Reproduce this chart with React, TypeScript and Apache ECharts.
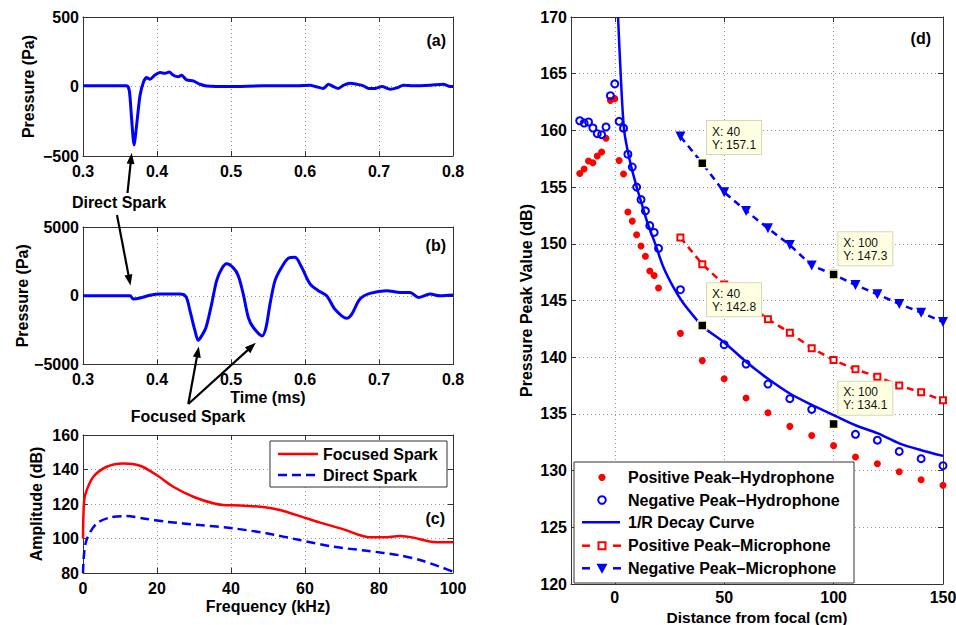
import React, { useEffect, useRef } from 'react';
import * as echarts from 'echarts';

// Panel (a): direct spark waveform
const timeA = [0.300, 0.359, 0.3626, 0.3657, 0.369, 0.3724, 0.377, 0.3815, 0.386, 0.3905, 0.3973, 0.404, 0.411, 0.4166, 0.422, 0.4288, 0.4333, 0.44, 0.449, 0.458, 0.467, 0.499, 0.544, 0.589, 0.607, 0.614, 0.625, 0.6315, 0.638, 0.645, 0.652, 0.661, 0.67, 0.679, 0.686, 0.695, 0.704, 0.715, 0.724, 0.733, 0.746, 0.769, 0.787, 0.796, 0.8];
const pressureA = [5, 5, -31, -233, -420, -281, -67, 29, 64, 52, 83, 100, 95, 104, 81, 71, 81, 47, 40, 16, 4, 0, 5, 5, 9, 0, -14, 16, 0, -14, 9, 24, 16, 5, -14, -14, 0, -19, -10, 9, 5, 9, 16, 0, 0];

// Panel (b): focused spark waveform
const timeB = [0.300, 0.3635, 0.368, 0.377, 0.3905, 0.404, 0.431, 0.4392, 0.4446, 0.4514, 0.4557, 0.4603, 0.4662, 0.4738, 0.4806, 0.4873, 0.494, 0.5031, 0.5098, 0.5166, 0.5234, 0.5302, 0.5422, 0.5473, 0.5527, 0.5595, 0.5684, 0.5774, 0.5865, 0.5955, 0.6068, 0.618, 0.6293, 0.6405, 0.6563, 0.663, 0.6743, 0.6878, 0.7103, 0.7284, 0.742, 0.7531, 0.769, 0.7824, 0.8];
const pressureB = [0, 0, -240, -170, 30, 120, 120, -70, -1100, -2560, -3240, -2920, -2310, -610, 1100, 1950, 2320, 2030, 1460, 120, -1580, -2310, -2920, -2310, -610, 1100, 2070, 2730, 2800, 2070, 860, 370, 0, -980, -1640, -1350, -240, 170, 370, 240, 240, -120, 120, 0, 50];

// Panel (c): spectra
const freqFocused = [0, 0.3, 1, 2.8, 6.4, 10.9, 15.4, 19.9, 24.4, 29.8, 35.2, 37.9, 42.4, 49.6, 53.2, 58.6, 64.1, 70.4, 74.9, 77.6, 81.2, 85.7, 89.3, 94.7, 100];
const ampFocused = [100, 122, 128, 135.8, 141.6, 143.5, 142.2, 136.8, 130, 124.2, 120.4, 119.4, 119.2, 118, 116.5, 113, 109.2, 105.3, 101.9, 100.7, 100.7, 101.4, 100.5, 98, 97.8];
const freqDirect = [0, 0.3, 1.1, 3.7, 7.3, 11.8, 16.3, 22.6, 31.6, 40.6, 49.6, 58.6, 67.7, 76.7, 85.7, 91.1, 96.5, 100];
const ampDirect = [80, 91.4, 100, 108.7, 112.2, 113, 111.6, 109.7, 107.8, 105.9, 103, 99.1, 95.2, 92.9, 90.2, 87.5, 83.6, 80.8];

// Panel (d): peak values vs distance
const hydroX = [-16, -14, -12, -10, -8, -6, -4, -2, 0, 2, 4, 6, 8, 10, 12, 14, 16, 18, 20, 30, 40, 50, 60, 70, 80, 90, 100, 110, 120, 130, 140, 150];
const posHydro = [156.2, 156.6, 157.3, 157.15, 157.75, 158.1, 159.3, 162.65, 162.8, 157.35, 156.15, 152.8, 152.0, 150.8, 149.8, 148.9, 147.6, 147.2, 146.1, 142.1, 139.7, 138.1, 136.4, 135.1, 133.9, 133.1, 132.2, 131.2, 130.6, 129.9, 129.2, 128.7];
const negHydro = [160.85, 160.65, 160.74, 160.21, 159.71, 159.62, 160.3, 163.06, 164.1, 160.8, 160.2, 157.9, 156.77, 155.0, 153.9, 152.9, 151.6, 151.0, 149.6, 145.95, 142.8, 141.1, 139.4, 137.63, 136.34, 135.4, 134.1, 133.2, 132.68, 131.69, 131.05, 130.43];
const decayX = [1.5, 2.7, 4.3, 6.9, 9.9, 12.2, 15.2, 18.3, 22.1, 26.7, 31.2, 37.4, 40, 50, 60, 70, 80, 90, 100, 110, 120, 130, 140, 150];
const decayY = [170, 165, 160, 157.3, 155.1, 153.6, 151.7, 150.1, 148.0, 146.2, 144.8, 143.3, 142.7, 141.3, 139.6, 138.1, 136.8, 135.8, 134.9, 134.0, 133.3, 132.4, 131.8, 131.3];
const micX = [30, 40, 50, 60, 70, 80, 90, 100, 110, 120, 130, 140, 150];
const posMic = [150.55, 148.2, 146.4, 144.8, 143.35, 142.16, 140.8, 139.75, 138.93, 138.28, 137.5, 136.9, 136.2];
const negMic = [159.46, 157.1, 154.55, 152.9, 151.37, 149.9, 148.08, 147.3, 146.37, 145.55, 144.7, 143.93, 143.1];
const tipX = [40, 100, 40, 100];
const tipY = [157.1, 147.3, 142.8, 134.1];
const xTicksD = [0, 50, 100, 150];
const xGridD = [0, 50, 100];

const FONT = "'Liberation Sans', Arial, Helvetica, sans-serif";
const zip = (xs: number[], ys: number[]) => xs.map((x, i) => [x, ys[i]]);
const fmtNum = (v: number) => (v < 0 ? '\u2212' + Math.abs(v) : String(v));

const lineCol = '#333';
const gridCol = '#9a9a9a';
const labelTxt = { fontFamily: FONT, fontSize: 16, fontWeight: 'bold' as const, color: '#000' };
const splitDots = { show: true, lineStyle: { type: [1, 3], color: gridCol, width: 1 } };

function bottomX(gridIndex: number, min: number, max: number, interval: number | undefined, fmt: any, name?: string, extra: any = {}) {
  return {
    type: 'value', gridIndex, min, max, interval, position: 'bottom',
    axisLine: { show: true, onZero: false, lineStyle: { color: lineCol, width: 1 } },
    axisTick: { show: true, inside: true, length: 5, lineStyle: { color: lineCol }, ...(extra.axisTick || {}) },
    axisLabel: { ...labelTxt, margin: 7, formatter: fmt, ...(extra.axisLabel || {}) },
    splitLine: extra.splitLine || splitDots,
    name, nameLocation: 'middle', nameGap: extra.nameGap || 25, nameTextStyle: { ...labelTxt, ...(extra.nameTextStyle || {}) },
  };
}
function topX(gridIndex: number, min: number, max: number, interval: number | undefined, extra: any = {}) {
  return {
    type: 'value', gridIndex, min, max, interval, position: 'top',
    axisLine: { show: true, onZero: false, lineStyle: { color: lineCol, width: 1 } },
    axisTick: { show: true, inside: true, length: 5, lineStyle: { color: lineCol }, ...(extra.axisTick || {}) },
    axisLabel: { show: false, ...(extra.axisLabel || {}) },
    splitLine: { show: false },
  };
}
function leftY(gridIndex: number, min: number, max: number, interval: number, name: string, nameGap: number) {
  return {
    type: 'value', gridIndex, min, max, interval, position: 'left',
    axisLine: { show: true, onZero: false, lineStyle: { color: lineCol, width: 1 } },
    axisTick: { show: true, inside: true, length: 5, lineStyle: { color: lineCol } },
    axisLabel: { ...labelTxt, margin: 4, formatter: fmtNum },
    splitLine: splitDots,
    name, nameLocation: 'middle', nameGap, nameTextStyle: labelTxt,
  };
}
function rightY(gridIndex: number, min: number, max: number, interval: number) {
  return {
    type: 'value', gridIndex, min, max, interval, position: 'right',
    axisLine: { show: true, onZero: false, lineStyle: { color: lineCol, width: 1 } },
    axisTick: { show: true, inside: true, length: 5, lineStyle: { color: lineCol } },
    axisLabel: { show: false },
    splitLine: { show: false },
  };
}

function arrow(x1: number, y1: number, x2: number, y2: number) {
  const dx = x2 - x1, dy = y2 - y1;
  const len = Math.sqrt(dx * dx + dy * dy);
  const ux = dx / len, uy = dy / len;
  const nx = -uy, ny = ux;
  const hl = 11, hw = 4;
  const bx = x2 - ux * hl, by = y2 - uy * hl;
  return [
    { type: 'line', z: 100, shape: { x1, y1, x2: bx + ux * 2, y2: by + uy * 2 }, style: { stroke: '#000', lineWidth: 2.2 } },
    { type: 'polygon', z: 100, shape: { points: [[x2, y2], [bx + nx * hw, by + ny * hw], [bx - nx * hw, by - ny * hw]] }, style: { fill: '#000' } },
  ];
}
function txt(x: number, y: number, text: string, align = 'center', size = 16, weight = 'bold') {
  return { type: 'text', z: 101, x, y, style: { text, fontFamily: FONT, fontSize: size, fontWeight: weight, fill: '#000', align, verticalAlign: 'middle' } };
}

export default function App() {
  const ref = useRef<HTMLDivElement>(null);
  useEffect(() => {
    if (!ref.current) return;
    const chart = echarts.init(ref.current, undefined, { renderer: 'svg' });

    const legendC = [
      { type: 'rect', z: 100, shape: { x: 270, y: 441, width: 177, height: 46 }, style: { fill: '#fff', stroke: '#333', lineWidth: 1 } },
      { type: 'line', z: 101, shape: { x1: 278, y1: 454, x2: 318, y2: 454 }, style: { stroke: '#ff0000', lineWidth: 2.5 } },
      txt(323, 454, 'Focused Spark', 'left'),
      { type: 'line', z: 101, shape: { x1: 278, y1: 475, x2: 318, y2: 475 }, style: { stroke: '#0000ff', lineWidth: 2.5, lineDash: [9, 5] } },
      txt(323, 475, 'Direct Spark', 'left'),
    ];
    const ly = [477.3, 500, 522.3, 545.7, 568.3];
    const legendD = [
      { type: 'rect', z: 100, shape: { x: 574, y: 462, width: 280, height: 121 }, style: { fill: '#fff', stroke: '#333', lineWidth: 1 } },
      { type: 'circle', z: 101, shape: { cx: 602, cy: ly[0], r: 3.6 }, style: { fill: '#ff0000' } },
      txt(628, ly[0], 'Positive Peak\u2013Hydrophone', 'left'),
      { type: 'circle', z: 101, shape: { cx: 602, cy: ly[1], r: 3.8 }, style: { fill: 'none', stroke: '#0000ff', lineWidth: 2 } },
      txt(628, ly[1], 'Negative Peak\u2013Hydrophone', 'left'),
      { type: 'line', z: 101, shape: { x1: 582, y1: ly[2], x2: 620, y2: ly[2] }, style: { stroke: '#0000ff', lineWidth: 2.5 } },
      txt(628, ly[2], '1/R Decay Curve', 'left'),
      { type: 'line', z: 101, shape: { x1: 582, y1: ly[3], x2: 590, y2: ly[3] }, style: { stroke: '#ff0000', lineWidth: 2.5 } },
      { type: 'line', z: 101, shape: { x1: 613, y1: ly[3], x2: 621, y2: ly[3] }, style: { stroke: '#ff0000', lineWidth: 2.5 } },
      { type: 'rect', z: 101, shape: { x: 598.5, y: ly[3] - 3.5, width: 7, height: 7 }, style: { fill: '#fff', stroke: '#ff0000', lineWidth: 2 } },
      txt(628, ly[3], 'Positive Peak\u2013Microphone', 'left'),
      { type: 'line', z: 101, shape: { x1: 582, y1: ly[4], x2: 590, y2: ly[4] }, style: { stroke: '#0000ff', lineWidth: 2.5 } },
      { type: 'line', z: 101, shape: { x1: 613, y1: ly[4], x2: 621, y2: ly[4] }, style: { stroke: '#0000ff', lineWidth: 2.5 } },
      { type: 'polygon', z: 101, shape: { points: [[596.5, ly[4] - 4.5], [607.5, ly[4] - 4.5], [602, ly[4] + 5.5]] }, style: { fill: '#0000ff' } },
      txt(628, ly[4], 'Negative Peak\u2013Microphone', 'left'),
    ];

    const graphic = [
      ...arrow(127.5, 193, 131.7, 153),
      ...arrow(117, 215, 130.5, 285.5),
      ...arrow(188.3, 404, 198.8, 346.5),
      ...arrow(188.3, 404, 255.8, 342.8),
      txt(119, 202, 'Direct Spark'),
      txt(188, 416, 'Focused Spark'),
      txt(446, 40, '(a)', 'right'),
      txt(446, 245, '(b)', 'right'),
      txt(445, 518, '(c)', 'right'),
      txt(931, 38, '(d)', 'right'),
      ...legendC,
      ...legendD,
    ];

    const option: any = {
      animation: false,
      backgroundColor: '#ffffff',
      textStyle: { fontFamily: FONT },
      grid: [
        { left: 83, top: 17, width: 370, height: 139, outerBoundsMode: 'none' },
        { left: 83, top: 227, width: 370, height: 137.5, outerBoundsMode: 'none' },
        { left: 83, top: 435, width: 370, height: 138, outerBoundsMode: 'none' },
        { left: 571, top: 17, width: 372, height: 567, outerBoundsMode: 'none' },
      ],
      xAxis: [
        bottomX(0, 0.3, 0.8, 0.1, (v: number) => v.toFixed(1)),
        bottomX(1, 0.3, 0.8, 0.1, (v: number) => v.toFixed(1), 'Time (ms)'),
        bottomX(2, 0, 100, 20, (v: number) => String(v), 'Frequency (kHz)'),
        bottomX(3, -20, 150, undefined, (v: number) => String(v), 'Distance from focal (cm)', {
          axisTick: { customValues: xTicksD }, axisLabel: { customValues: xTicksD, margin: 5 },
          splitLine: { show: false }, nameGap: 18, nameTextStyle: { fontSize: 15.5 },
        }),
        topX(0, 0.3, 0.8, 0.1),
        topX(1, 0.3, 0.8, 0.1),
        topX(2, 0, 100, 20),
        topX(3, -20, 150, undefined, { axisTick: { customValues: xTicksD }, axisLabel: { customValues: xTicksD } }),
      ],
      yAxis: [
        leftY(0, -500, 500, 500, 'Pressure (Pa)', 47),
        leftY(1, -5000, 5000, 5000, 'Pressure (Pa)', 47),
        leftY(2, 80, 160, 20, 'Amplitude (dB)', 39),
        leftY(3, 120, 170, 5, 'Pressure Peak Value (dB)', 37),
        rightY(0, -500, 500, 500),
        rightY(1, -5000, 5000, 5000),
        rightY(2, 80, 160, 20),
        rightY(3, 120, 170, 5),
      ],
      series: [
        { type: 'line', name: 'Direct waveform', xAxisIndex: 0, yAxisIndex: 0, data: zip(timeA, pressureA), showSymbol: false, smooth: 0.25, lineStyle: { color: '#0000ff', width: 3 } },
        { type: 'line', name: 'Focused waveform', xAxisIndex: 1, yAxisIndex: 1, data: zip(timeB, pressureB), showSymbol: false, smooth: 0.3, lineStyle: { color: '#0000ff', width: 3 } },
        { type: 'line', name: 'Focused Spark', xAxisIndex: 2, yAxisIndex: 2, data: zip(freqFocused, ampFocused), showSymbol: false, smooth: 0.3, lineStyle: { color: '#ff0000', width: 2.5 } },
        { type: 'line', name: 'Direct Spark', xAxisIndex: 2, yAxisIndex: 2, data: zip(freqDirect, ampDirect), showSymbol: false, smooth: 0.3, lineStyle: { color: '#0000ff', width: 2.5, type: [9, 5] } },
        {
          type: 'line', name: '1/R Decay Curve', xAxisIndex: 3, yAxisIndex: 3, data: zip(decayX, decayY), showSymbol: false, smooth: 0.3, clip: true,
          lineStyle: { color: '#0000ff', width: 2.5 },
          markLine: {
            silent: true, symbol: ['none', 'none'], label: { show: false }, z: 0,
            lineStyle: { type: [1, 3], color: gridCol, width: 1 },
            data: xGridD.map((v) => ({ xAxis: v })),
          },
        },
        { type: 'scatter', name: 'Positive Peak\u2013Hydrophone', xAxisIndex: 3, yAxisIndex: 3, data: zip(hydroX, posHydro), symbol: 'circle', symbolSize: 7, itemStyle: { color: '#ff0000', opacity: 1 } },
        { type: 'scatter', name: 'Negative Peak\u2013Hydrophone', xAxisIndex: 3, yAxisIndex: 3, data: zip(hydroX, negHydro), symbol: 'circle', symbolSize: 7, itemStyle: { color: 'rgba(255,255,255,0)', borderColor: '#0000ff', borderWidth: 2, opacity: 1 } },
        { type: 'line', name: 'Positive Peak\u2013Microphone', xAxisIndex: 3, yAxisIndex: 3, data: zip(micX, posMic), symbol: 'rect', symbolSize: 6, showAllSymbol: true, itemStyle: { color: '#ffffff', borderColor: '#ff0000', borderWidth: 2 }, lineStyle: { color: '#ff0000', width: 2.5, type: [7, 5] } },
        { type: 'line', name: 'Negative Peak\u2013Microphone', xAxisIndex: 3, yAxisIndex: 3, data: zip(micX, negMic), symbol: 'triangle', symbolRotate: 180, symbolSize: 10, showAllSymbol: true, itemStyle: { color: '#0000ff' }, lineStyle: { color: '#0000ff', width: 2.5, type: [7, 5] } },
        {
          type: 'scatter', name: 'Data tips', xAxisIndex: 3, yAxisIndex: 3, z: 20, data: zip(tipX, tipY),
          symbol: 'rect', symbolSize: 9, itemStyle: { color: '#000', borderColor: '#ffffc8', borderWidth: 1.5, opacity: 1 },
          label: {
            show: true, position: [10, -37], formatter: (p: any) => `X: ${p.value[0]}\nY: ${p.value[1]}`,
            fontFamily: FONT, fontSize: 12, lineHeight: 13, color: '#111', align: 'left', verticalAlign: 'top',
            backgroundColor: '#ffffe1', borderColor: '#d6d6bc', borderWidth: 1, padding: [4, 5, 3, 5],
          },
        },
      ],
      graphic,
    };
    chart.setOption(option);
    return () => chart.dispose();
  }, []);
  return <div ref={ref} style={{ position: 'absolute', left: 0, top: 0, width: 956, height: 625 }} />;
}
